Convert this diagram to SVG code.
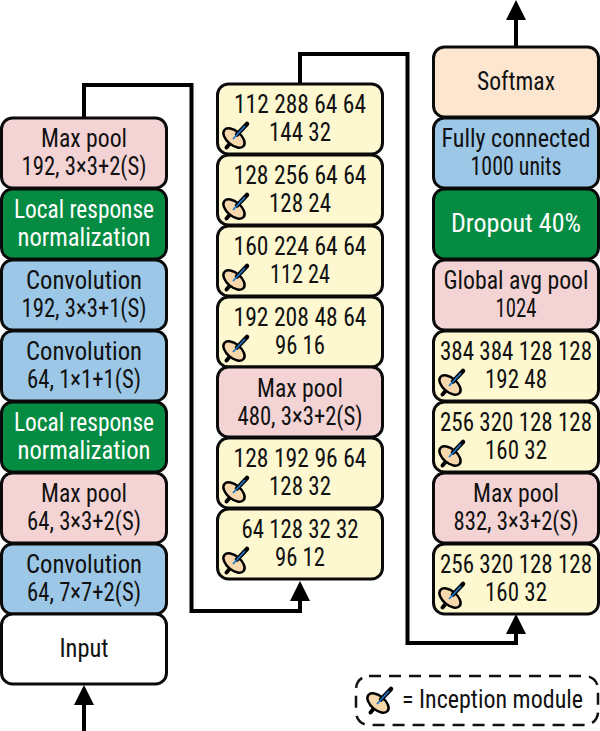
<svg xmlns="http://www.w3.org/2000/svg" xmlns:xlink="http://www.w3.org/1999/xlink" width="600" height="731" viewBox="0 0 600 731">
<style>
text{font-family:"Roboto","Liberation Sans",sans-serif;font-size:25px;font-stretch:condensed;fill:#111;text-anchor:middle}
text.w{fill:#fff}
.b{stroke:#0a0a0a;stroke-width:3}
.pink{fill:#f4d3d4}.green{fill:#058c42}.blue{fill:#9cc7e6}.yellow{fill:#fdf8d0}.peach{fill:#fce6d0}.white{fill:#fff}
.c{fill:none;stroke:#000;stroke-width:4;stroke-linejoin:miter}
</style>
<defs>
<rect id="box" class="b" width="165" height="70" rx="11"/>
<g id="icon">
<line x1="-2" y1="3" x2="-7.500" y2="9.500" stroke="#000" stroke-width="4" stroke-linecap="round"/>
<ellipse cx="0" cy="0" rx="12.500" ry="7" transform="rotate(40)" fill="#f7d7ac" stroke="#000" stroke-width="2.500"/>
<line x1="3" y1="-3.500" x2="13" y2="-14" stroke="#000" stroke-width="4.500" stroke-linecap="round"/>
<line x1="-1" y1="1" x2="11" y2="-12" stroke="#1f78c8" stroke-width="1.800"/>
</g>
</defs>
<g id="connectors">
<path class="c" d="M84 118V85H191.500V611H300V599"/>
<path d="M290 601L300 581L310 601Z"/>
<path class="c" d="M300 84V54H407.500V643H516V632"/>
<path d="M506 634L516 614L526 634Z"/>
<path class="c" d="M516 47V18"/>
<path d="M506 20L516 0L526 20Z"/>
<path class="c" d="M84 731V703"/>
<path d="M74 705L84 685L94 705Z"/>
</g>
<g id="n-maxpool1"><use xlink:href="#box" class="pink" x="1.500" y="118"/><text x="84" y="147" textLength="86" lengthAdjust="spacingAndGlyphs">Max pool</text><text x="84" y="175" textLength="125" lengthAdjust="spacingAndGlyphs">192, 3×3+2(S)</text></g>
<g id="n-lrn1"><use xlink:href="#box" class="green" x="1.500" y="189"/><text class="w" x="84" y="218" textLength="140" lengthAdjust="spacingAndGlyphs">Local response</text><text class="w" x="84" y="246" textLength="133" lengthAdjust="spacingAndGlyphs">normalization</text></g>
<g id="n-conv1"><use xlink:href="#box" class="blue" x="1.500" y="260"/><text x="84" y="289" textLength="116" lengthAdjust="spacingAndGlyphs">Convolution</text><text x="84" y="317" textLength="125" lengthAdjust="spacingAndGlyphs">192, 3×3+1(S)</text></g>
<g id="n-conv2"><use xlink:href="#box" class="blue" x="1.500" y="331"/><text x="84" y="360" textLength="116" lengthAdjust="spacingAndGlyphs">Convolution</text><text x="84" y="388" textLength="114" lengthAdjust="spacingAndGlyphs">64, 1×1+1(S)</text></g>
<g id="n-lrn2"><use xlink:href="#box" class="green" x="1.500" y="402"/><text class="w" x="84" y="431" textLength="140" lengthAdjust="spacingAndGlyphs">Local response</text><text class="w" x="84" y="459" textLength="133" lengthAdjust="spacingAndGlyphs">normalization</text></g>
<g id="n-maxpool2"><use xlink:href="#box" class="pink" x="1.500" y="473"/><text x="84" y="502" textLength="86" lengthAdjust="spacingAndGlyphs">Max pool</text><text x="84" y="530" textLength="114" lengthAdjust="spacingAndGlyphs">64, 3×3+2(S)</text></g>
<g id="n-conv3"><use xlink:href="#box" class="blue" x="1.500" y="544"/><text x="84" y="573" textLength="116" lengthAdjust="spacingAndGlyphs">Convolution</text><text x="84" y="601" textLength="114" lengthAdjust="spacingAndGlyphs">64, 7×7+2(S)</text></g>
<g id="n-input"><use xlink:href="#box" class="white" x="1.500" y="614"/><text x="84" y="657" textLength="49" lengthAdjust="spacingAndGlyphs">Input</text></g>

<g id="n-m1"><use xlink:href="#box" class="yellow" x="217.500" y="84"/><text x="300" y="113" textLength="132" lengthAdjust="spacingAndGlyphs">112 288 64 64</text><text x="300" y="141" textLength="62" lengthAdjust="spacingAndGlyphs">144 32</text><use xlink:href="#icon" x="234" y="138"/></g>
<g id="n-m2"><use xlink:href="#box" class="yellow" x="217.500" y="155"/><text x="300" y="184" textLength="133" lengthAdjust="spacingAndGlyphs">128 256 64 64</text><text x="300" y="212" textLength="62" lengthAdjust="spacingAndGlyphs">128 24</text><use xlink:href="#icon" x="234" y="209"/></g>
<g id="n-m3"><use xlink:href="#box" class="yellow" x="217.500" y="226"/><text x="300" y="255" textLength="133" lengthAdjust="spacingAndGlyphs">160 224 64 64</text><text x="300" y="283" textLength="60" lengthAdjust="spacingAndGlyphs">112 24</text><use xlink:href="#icon" x="234" y="280"/></g>
<g id="n-m4"><use xlink:href="#box" class="yellow" x="217.500" y="297"/><text x="300" y="326" textLength="133" lengthAdjust="spacingAndGlyphs">192 208 48 64</text><text x="300" y="354" textLength="50" lengthAdjust="spacingAndGlyphs">96 16</text><use xlink:href="#icon" x="234" y="351"/></g>
<g id="n-m5"><use xlink:href="#box" class="pink" x="217.500" y="367"/><text x="300" y="397" textLength="86" lengthAdjust="spacingAndGlyphs">Max pool</text><text x="300" y="425" textLength="125" lengthAdjust="spacingAndGlyphs">480, 3×3+2(S)</text></g>
<g id="n-m6"><use xlink:href="#box" class="yellow" x="217.500" y="438"/><text x="300" y="467" textLength="133" lengthAdjust="spacingAndGlyphs">128 192 96 64</text><text x="300" y="495" textLength="62" lengthAdjust="spacingAndGlyphs">128 32</text><use xlink:href="#icon" x="234" y="492"/></g>
<g id="n-m7"><use xlink:href="#box" class="yellow" x="217.500" y="509"/><text x="300" y="538" textLength="117" lengthAdjust="spacingAndGlyphs">64 128 32 32</text><text x="300" y="566" textLength="50" lengthAdjust="spacingAndGlyphs">96 12</text><use xlink:href="#icon" x="234" y="563"/></g>

<g id="n-softmax"><use xlink:href="#box" class="peach" x="433.500" y="47"/><text x="516" y="90" textLength="78" lengthAdjust="spacingAndGlyphs">Softmax</text></g>
<g id="n-fc"><use xlink:href="#box" class="blue" x="433.500" y="118"/><text x="516" y="147" textLength="149" lengthAdjust="spacingAndGlyphs">Fully connected</text><text x="516" y="175" textLength="91" lengthAdjust="spacingAndGlyphs">1000 units</text></g>
<g id="n-dropout"><use xlink:href="#box" class="green" x="433.500" y="189"/><text class="w" x="516" y="232" textLength="130" lengthAdjust="spacingAndGlyphs">Dropout 40%</text></g>
<g id="n-gap"><use xlink:href="#box" class="pink" x="433.500" y="260"/><text x="516" y="289" textLength="145" lengthAdjust="spacingAndGlyphs">Global avg pool</text><text x="516" y="317" textLength="41" lengthAdjust="spacingAndGlyphs">1024</text></g>
<g id="n-r1"><use xlink:href="#box" class="yellow" x="433.500" y="331"/><text x="516" y="360" textLength="152" lengthAdjust="spacingAndGlyphs">384 384 128 128</text><text x="516" y="388" textLength="62" lengthAdjust="spacingAndGlyphs">192 48</text><use xlink:href="#icon" x="450" y="385"/></g>
<g id="n-r2"><use xlink:href="#box" class="yellow" x="433.500" y="402"/><text x="516" y="431" textLength="152" lengthAdjust="spacingAndGlyphs">256 320 128 128</text><text x="516" y="459" textLength="62" lengthAdjust="spacingAndGlyphs">160 32</text><use xlink:href="#icon" x="450" y="456"/></g>
<g id="n-r3"><use xlink:href="#box" class="pink" x="433.500" y="473"/><text x="516" y="502" textLength="86" lengthAdjust="spacingAndGlyphs">Max pool</text><text x="516" y="530" textLength="125" lengthAdjust="spacingAndGlyphs">832, 3×3+2(S)</text></g>
<g id="n-r4"><use xlink:href="#box" class="yellow" x="433.500" y="544"/><text x="516" y="573" textLength="152" lengthAdjust="spacingAndGlyphs">256 320 128 128</text><text x="516" y="601" textLength="62" lengthAdjust="spacingAndGlyphs">160 32</text><use xlink:href="#icon" x="450" y="598"/></g>

<g id="legend"><rect x="356" y="676" width="242" height="49" rx="13" fill="none" stroke="#111" stroke-width="2.500" stroke-dasharray="12 8"/><use xlink:href="#icon" x="378" y="703"/><text x="492.500" y="708" textLength="181" lengthAdjust="spacingAndGlyphs">= Inception module</text></g>
</svg>
